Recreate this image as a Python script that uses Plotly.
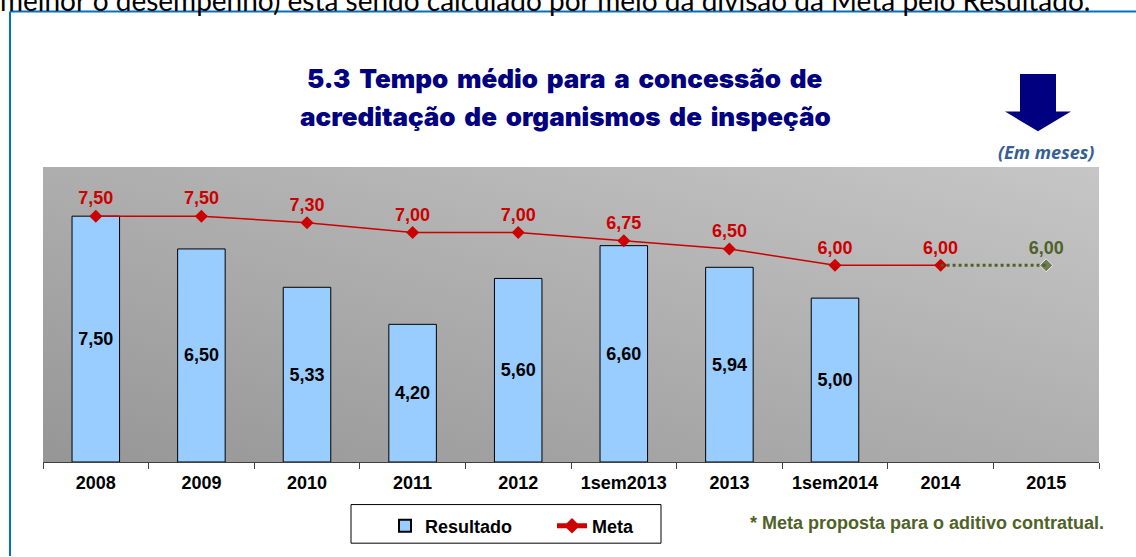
import base64
import plotly.graph_objects as go

# ---- data ----
categories = ["2008", "2009", "2010", "2011", "2012", "1sem2013", "2013", "1sem2014", "2014", "2015"]
resultado = [7.50, 6.50, 5.33, 4.20, 5.60, 6.60, 5.94, 5.00, None, None]
meta = [7.50, 7.50, 7.30, 7.00, 7.00, 6.75, 6.50, 6.00, 6.00, None]
meta_proposta_x = ["2014", "2015"]
meta_proposta = [6.00, 6.00]

def fmt(v):
    return "" if v is None else f"{v:.2f}".replace(".", ",")

W, H = 1136, 557
L, R, T, B = 43, 37, 167, 92
PW, PH = W - L - R, H - T - B

def px(x):
    return (x - L) / PW

def py(y):
    return (H - B - y) / PH

AR = "Liberation Sans"
RED = "#cc0000"
GREEN = "#4f6228"
NAVY = "#000080"

fig = go.Figure()

fig.add_trace(go.Bar(
    x=categories, y=resultado, name="Resultado", width=0.45,
    marker=dict(color="#99ccff", line=dict(color="#000000", width=1)),
    text=[fmt(v) for v in resultado], textposition="inside",
    insidetextanchor="middle", textangle=0, constraintext="none",
    textfont=dict(family=AR, size=18, color="#000000", weight="bold"),
    hoverinfo="skip",
))

fig.add_trace(go.Scatter(
    x=categories, y=meta, name="Meta", mode="lines+markers+text",
    line=dict(color=RED, width=1.5),
    marker=dict(symbol="diamond", size=10, color=RED),
    text=[fmt(v) for v in meta], textposition="top center",
    textfont=dict(family=AR, size=18, color=RED, weight="bold"),
    hoverinfo="skip",
))

fig.add_trace(go.Scatter(
    x=meta_proposta_x, y=meta_proposta, name="Meta proposta", mode="lines+markers+text",
    showlegend=False,
    line=dict(color=GREEN, width=3, dash="dot"),
    marker=dict(symbol="diamond", size=[0, 10], color=GREEN),
    text=["", fmt(meta_proposta[1])], textposition="top center",
    textfont=dict(family=AR, size=18, color=GREEN, weight="bold"),
    hoverinfo="skip",
))

svg = ('<svg xmlns="http://www.w3.org/2000/svg" width="100" height="100" preserveAspectRatio="none">'
       '<defs><linearGradient id="g" x1="0" y1="1" x2="1" y2="0">'
       '<stop offset="0" stop-color="#969696"/><stop offset="0.55" stop-color="#b0b0b0"/>'
       '<stop offset="1" stop-color="#c6c6c6"/></linearGradient></defs>'
       '<rect width="100" height="100" fill="url(#g)"/></svg>')
uri = "data:image/svg+xml;base64," + base64.b64encode(svg.encode()).decode()

shapes = [
    # blue document frame
    dict(type="line", xref="paper", yref="paper", x0=px(10), x1=px(10), y0=py(10), y1=py(560),
         line=dict(color="#0070c0", width=2)),
    dict(type="line", xref="paper", yref="paper", x0=px(10), x1=px(1140), y0=py(10), y1=py(10),
         line=dict(color="#0070c0", width=2)),
    # legend box
    dict(type="rect", xref="paper", yref="paper", x0=px(351), x1=px(661), y0=py(508), y1=py(547),
         line=dict(color="#000000", width=1), fillcolor="#ffffff", layer="below"),
    # down arrow
    dict(type="path", xref="paper", yref="paper",
         path=(f"M {px(1020)},{py(73)} L {px(1056)},{py(73)} L {px(1056)},{py(111)} "
               f"L {px(1071)},{py(111)} L {px(1038)},{py(131)} L {px(1005)},{py(111)} "
               f"L {px(1020)},{py(111)} Z"),
         fillcolor=NAVY, line=dict(color=NAVY, width=0)),
]

def ann(text, x, y, xanchor, yanchor, font):
    return dict(text=text, xref="paper", yref="paper", x=px(x), y=py(y),
                xanchor=xanchor, yanchor=yanchor, showarrow=False, font=font)

TITLE_FONT = dict(family="Inter", size=26, color=NAVY, weight=900)
WIDE = "\u2009 "

title1 = "5.3 Tempo médio para a concessão de"
title2 = "acreditação de organismos de inspeção"

annotations = [
    ann("melhor o desempenho) está sendo calculado por meio da divisão da Meta pelo Resultado.",
        -2, 17, "left", "bottom", dict(family="Lato", size=28, color="#000000")),
    ann(title1.replace(" ", WIDE), 565, 78, "center", "middle", TITLE_FONT),
    ann(title2.replace(" ", WIDE), 565, 116, "center", "middle", TITLE_FONT),
    ann("(Em meses)", 1096, 152, "right", "middle",
        dict(family="Open Sans", size=18, color="#366092", weight="bold", style="italic")),
    ann("* Meta proposta para o aditivo contratual.", 748, 527, "left", "middle",
        dict(family=AR, size=18, color=GREEN, weight="bold")),
]

fig.update_layout(
    width=W, height=H, autosize=False,
    margin=dict(l=L, r=R, t=T, b=B, pad=0),
    paper_bgcolor="#ffffff", plot_bgcolor="rgba(0,0,0,0)",
    images=[dict(source=uri, xref="paper", yref="paper", x=0, y=1, sizex=1, sizey=1,
                 xanchor="left", yanchor="top", sizing="stretch", layer="below")],
    shapes=shapes, annotations=annotations,
    showlegend=True,
    legend=dict(orientation="h", x=px(385), y=py(511), xanchor="left", yanchor="top",
                bgcolor="rgba(0,0,0,0)", borderwidth=0, entrywidth=122, entrywidthmode="pixels",
                font=dict(family=AR, size=18, color="#000000", weight="bold"),
                itemsizing="constant", traceorder="normal"),
    bargap=0.55,
    xaxis=dict(type="category", range=[-0.5, 9.5], showgrid=False, showline=True,
               linecolor="#404040", linewidth=1, ticks="outside", tickson="boundaries",
               ticklen=6, tickcolor="#404040", ticklabelstandoff=4,
               tickfont=dict(family=AR, size=18, color="#000000", weight="bold"), fixedrange=True),
    yaxis=dict(range=[0, 9], visible=False, showgrid=False, zeroline=False, fixedrange=True),
)

fig.write_html("out.html", config={"displayModeBar": False},
               post_script="document.body.style.margin='0';document.body.style.overflow='hidden';")
